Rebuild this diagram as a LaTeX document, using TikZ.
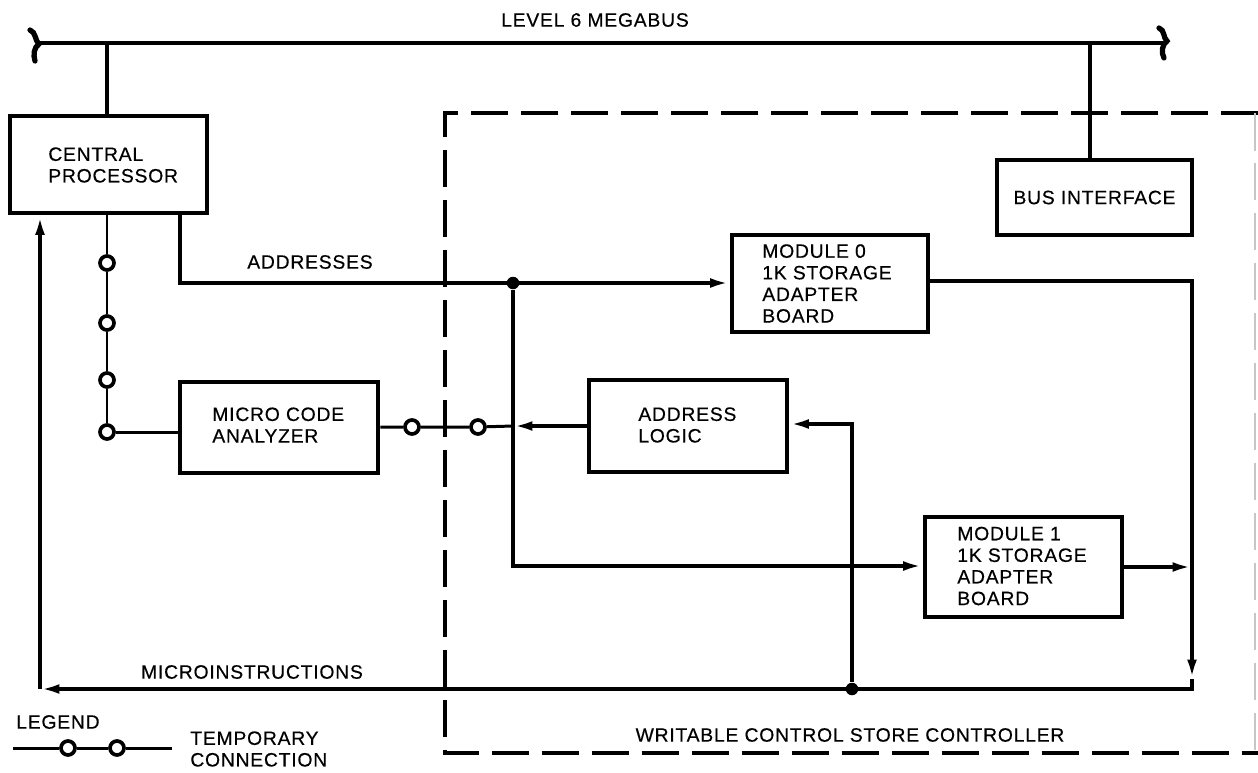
\documentclass[tikz,border=0pt]{standalone}
\usepackage{fontspec}
\setmainfont{Liberation Sans}[LetterSpace=4,FakeBold=0.4]
\usetikzlibrary{arrows.meta}
\begin{document}
\begin{tikzpicture}[x=0.02cm,y=-0.02cm,
  box/.style={draw, line width=2.8pt, inner sep=0pt},
  lbl/.style={inner sep=0pt, align=left, font=\fontsize{11}{12.3}\selectfont},
  wire/.style={line width=2.1pt},
  twire/.style={line width=1.7pt},
  arr/.style={wire, -{Latex[length=11pt,width=5.5pt]}},
  term/.style={circle, draw, fill=white, line width=2.1pt, minimum size=0.28cm, inner sep=0pt},
  jdot/.style={circle, fill, minimum size=0.25cm, inner sep=0pt},
  frame/.style={line width=2.1pt, dash pattern=on 0.75cm off 0.25cm},
  curl/.style={line width=3pt, line cap=round}
]
\useasboundingbox[fill=white] (0,0) rectangle (1258,772);

% dashed controller frame
\draw[frame] (1258,113) -- (445,113) -- (445,753) -- (1258,753);
\draw[frame, gray!45, line width=0.8pt] (1255,113) -- (1255,753);

% bus
\coordinate (busL) at (38,43);
\coordinate (busR) at (1163,43);
\coordinate (busT) at (1090,43);
\draw[line width=2.5pt] (busL) -- (busR);
\draw[curl] (30,30) .. controls (36,32) and (35,41) .. (39,44) .. controls (34,47) and (33,55) .. (35,61);
\draw[curl] (1159,28) .. controls (1165,30) and (1163,38) .. (1167,41) .. controls (1162,44) and (1161,53) .. (1164,58);
\node[lbl] (bus) at (595,20) {LEVEL 6 MEGABUS};

% boxes
\node[box, minimum width=3.94cm, minimum height=1.94cm] (cp) at (108.5,164.5) {};
\node[lbl, anchor=west] (cpt) at (48,165) {CENTRAL\\PROCESSOR};
\node[box, minimum width=3.9cm, minimum height=1.5cm] (bi) at (1094.5,197.5) {};
\node[lbl] (bit) at (1094.5,197.5) {BUS INTERFACE};
\node[box, minimum width=3.92cm, minimum height=1.94cm] (m0) at (830,283.5) {};
\node[lbl, anchor=west] (m0t) at (762,283.5) {MODULE 0\\1K STORAGE\\ADAPTER\\BOARD};
\node[box, minimum width=3.96cm, minimum height=1.84cm] (al) at (688,426) {};
\node[lbl, anchor=west] (alt) at (638,425) {ADDRESS\\LOGIC};
\node[box, minimum width=3.96cm, minimum height=1.82cm] (mca) at (279,427.5) {};
\node[lbl, anchor=west] (mcat) at (212,425) {MICRO CODE\\ANALYZER};
\node[box, minimum width=3.94cm, minimum height=2.0cm] (m1) at (1023.5,567) {};
\node[lbl, anchor=west] (m1t) at (957,566) {MODULE 1\\1K STORAGE\\ADAPTER\\BOARD};

% temporary connection terminals
\node[term] (c1) at (107,263) {};
\node[term] (c2) at (107,323) {};
\node[term] (c3) at (107,380) {};
\node[term] (c4) at (107,432) {};
\node[term] (t3) at (478,427) {};
\node[term] (t4) at (412,427) {};

% bus taps
\draw[wire] (cp.north -| c1) -- (busL -| c1);
\draw[wire] (busT) -- (busT |- bi.north);

% addresses
\coordinate (a1) at (180,283);
\node[jdot] (j1) at (513,283) {};
\draw[arr] (cp.south -| a1) -- (a1) -- (a1 -| m0.west);
\node[lbl] (addr) at (310,262) {ADDRESSES};
\coordinate (j1b) at (513,566);
\draw[arr] (j1) -- (j1b) -- (j1b -| m1.west);

% module outputs
\coordinate (r0) at (1192,281);
\coordinate (r0a) at (1192,679);
\coordinate (r1) at (1192,689);
\draw[arr] (m0.east |- r0) -- (r0) -- (r0a);
\draw[arr] (m1.east) -- (m1.east -| r0);

% microinstructions return
\coordinate (bl) at (40,689);
\node[jdot] (j2) at (852,689) {};
\draw[arr] (r0a) -- (r1) -- (bl);
\draw[arr] (bl) -- (bl |- cp.south);
\node[lbl] (micro) at (252,672) {MICROINSTRUCTIONS};
\coordinate (alin) at (852,424);
\draw[arr] (j2) -- (alin) -- (alin -| al.east);

% address logic output
\draw[arr] (al.west) -- (al.west -| j1);
\draw[twire] (al.west -| j1) -- (t3) -- (t4) -- (t4 -| mca.east);

% CP temporary chain
\draw[twire] (cp.south -| c1) -- (c1) -- (c2) -- (c3) -- (c4) -- (c4 -| mca.west);

% frame label
\node[lbl] (wcs) at (850,735) {WRITABLE CONTROL STORE CONTROLLER};

% legend
\node[lbl] (leg) at (58,722) {LEGEND};
\coordinate (lg0) at (13,748);
\coordinate (lg1) at (172,748);
\node[term] (lc1) at (68,748) {};
\node[term] (lc2) at (117,748) {};
\draw[twire] (lg0) -- (lc1) -- (lc2) -- (lg1);
\node[lbl, anchor=west] (tmp) at (190,749) {TEMPORARY\\CONNECTION};
\end{tikzpicture}
\end{document}
